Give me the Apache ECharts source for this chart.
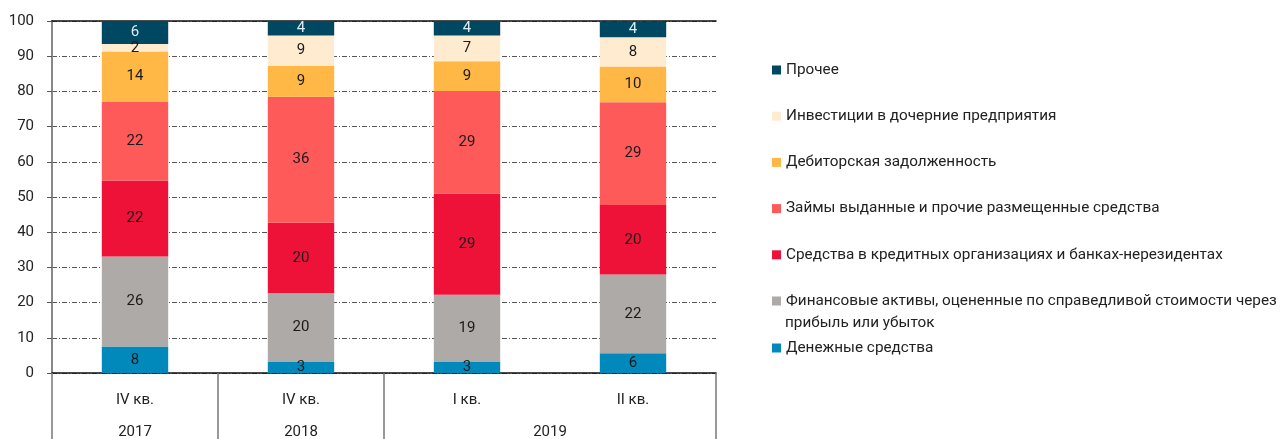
<!DOCTYPE html>
<html>
<head>
<meta charset="utf-8">
<script src="https://cdn.jsdelivr.net/npm/echarts@6/dist/echarts.min.js"></script>
<style>
    html, body { margin: 0; padding: 0; background: #fff; }
    #chart { width: 1281px; height: 439px; }
</style>
</head>
<body>
<div id="chart"></div>
<script>
var quarters = ['IV кв.', 'IV кв.', 'I кв.', 'II кв.'],
    years = ['2017', '2018', '2019'],
    quartersPerYear = [1, 1, 2];

// bottom to top
var seriesNames = [
    'Денежные средства',
    'Финансовые активы, оцененные по справедливой стоимости через прибыль или убыток',
    'Средства в кредитных организациях и банках-нерезидентах',
    'Займы выданные и прочие размещенные средства',
    'Дебиторская задолженность',
    'Инвестиции в дочерние предприятия',
    'Прочее'
];
// shares, % (labels are rounded)
var cash = [7.5, 3.1, 3.1, 5.6],
    finAssets = [25.6, 19.6, 19.1, 22.4],
    bankFunds = [21.6, 20.0, 28.8, 19.7],
    loans = [22.4, 35.8, 29.1, 29.2],
    receivables = [14.2, 8.7, 8.5, 10.2],
    investments = [2.2, 8.7, 7.3, 8.3],
    other = [6.49, 4.1, 4.1, 4.49];

var seriesData = [cash, finAssets, bankFunds, loans, receivables, investments, other],
    colors = ['#0089ba', '#aeaaa8', '#ee1238', '#ff5a5a', '#ffb845', '#ffebd0', '#004761'],
    font = 'Roboto';

// year label positions and separators on a 0..n value axis
var yearCenters = [], yearBounds = [0], acc = 0;
quartersPerYear.forEach(function (n) {
    yearCenters.push(acc + n / 2);
    acc += n;
    yearBounds.push(acc);
});

var series = seriesData.map(function (data, i) {
    return {
        name: seriesNames[i],
        type: 'bar',
        stack: 'total',
        barWidth: '40%',
        data: data,
        itemStyle: { color: colors[i] },
        label: {
            show: true,
            position: 'inside',
            fontFamily: font,
            fontSize: 15,
            color: i === 6 ? '#dcebf2' : '#1a1a1a',
            formatter: function (p) {
                return Math.round(p.value);
            }
        }
    };
});

var legendText = {
    fontFamily: font,
    fontSize: 15.3,
    color: '#222',
    lineHeight: 18
};

var option = {
    animation: false,
    grid: { left: 52, right: 565, top: 21, bottom: 66, outerBoundsMode: 'none' },
    legend: [{
        orient: 'vertical',
        left: 767,
        top: 56,
        itemWidth: 9,
        itemHeight: 9,
        itemGap: 28.2,
        icon: 'rect',
        selectedMode: false,
        textStyle: legendText,
        data: seriesNames.slice(1).reverse(),
        formatter: function (name) {
            var cut = name.indexOf(' прибыль');
            return cut > 0 ? name.substring(0, cut) : name;
        }
    }, {
        orient: 'vertical',
        left: 767,
        top: 334,
        itemWidth: 9,
        itemHeight: 9,
        icon: 'rect',
        selectedMode: false,
        textStyle: legendText,
        data: [seriesNames[0]]
    }],
    graphic: [{
        type: 'text',
        left: 785,
        top: 316,
        style: {
            text: 'прибыль или убыток',
            font: '15.3px ' + font,
            fill: '#222'
        }
    }],
    xAxis: [{
        type: 'category',
        data: quarters,
        axisLine: { lineStyle: { color: '#111', width: 1.5 } },
        axisTick: { show: false },
        axisLabel: { fontFamily: font, fontSize: 15, color: '#222', margin: 20 }
    }, {
        type: 'value',
        position: 'bottom',
        min: 0,
        max: quarters.length,
        axisLine: { show: false },
        splitLine: { show: false },
        axisTick: {
            show: true,
            customValues: yearBounds,
            length: 66,
            lineStyle: { color: '#777', width: 1.5 }
        },
        axisLabel: {
            customValues: yearCenters,
            margin: 52,
            fontFamily: font,
            fontSize: 15,
            color: '#222',
            formatter: function (v) {
                return years[yearCenters.indexOf(v)];
            }
        }
    }, {
        type: 'value',
        position: 'top',
        min: 0,
        max: 1,
        axisLine: { show: true, lineStyle: { color: '#111', width: 1.5 } },
        axisTick: { show: false },
        axisLabel: { show: false },
        splitLine: { show: false }
    }],
    yAxis: [{
        type: 'value',
        min: 0,
        max: 100,
        interval: 10,
        axisLine: { show: true, lineStyle: { color: '#444', width: 2 } },
        axisTick: { show: true, length: 5, lineStyle: { color: '#555' } },
        axisLabel: { fontFamily: font, fontSize: 15, color: '#222', margin: 18 },
        splitLine: {
            show: true,
            lineStyle: { color: '#555', width: 1, type: [5, 2, 1, 2] }
        }
    }, {
        type: 'value',
        position: 'right',
        min: 0,
        max: 100,
        axisLine: { show: true, lineStyle: { color: '#888', width: 2 } },
        axisTick: { show: false },
        axisLabel: { show: false },
        splitLine: { show: false }
    }],
    series: series
};

var chart = echarts.init(document.getElementById('chart'));
chart.setOption(option);
</script>
</body>
</html>
